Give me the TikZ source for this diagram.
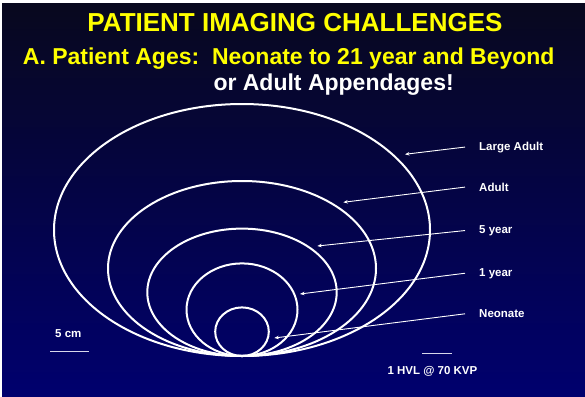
\documentclass[tikz,border=0pt]{standalone}
\usepackage{fontspec}
\setmainfont{Liberation Sans}
\usetikzlibrary{arrows.meta}
\definecolor{ttl}{RGB}{255,255,0}
\definecolor{bgtop}{RGB}{8,8,30}
\definecolor{bgbot}{RGB}{0,0,110}
\definecolor{barc}{RGB}{215,215,235}
\begin{document}
\begin{tikzpicture}[x=1pt,y=-1pt,
  ring/.style={draw=white,line width=2pt},
  arr/.style={draw=white,line width=0.9pt,-{Stealth[length=4.5pt,width=3.5pt]}},
  bigtext/.style={inner sep=0pt,font=\fontsize{23}{27}\selectfont\bfseries},
  lbl/.style={inner xsep=14pt,inner ysep=0pt,anchor=base west,text=white,font=\fontsize{11.5}{13}\selectfont\bfseries},
  note/.style={inner sep=0pt,anchor=base west,text=white,font=\fontsize{11.5}{13}\selectfont\bfseries},
  scalebar/.style={draw=barc,line width=1pt}]
\useasboundingbox (0,0) rectangle (585,396);
\fill[white] (0,0) rectangle (585,396);
\shade[top color=bgtop,bottom color=bgbot] (2,4) rectangle (585,396);
% titles
\node[bigtext,anchor=base,text=ttl,font=\fontsize{26}{30}\selectfont\bfseries] (title) at (295,31.7) {PATIENT IMAGING CHALLENGES};
\node[bigtext,anchor=base west,text=ttl] (sub) at (22.7,64) {A. Patient Ages:\ \ Neonate to 21 year and Beyond};
\node[bigtext,anchor=base west,text=white] (sub2) at (213.3,90.7) {or Adult Appendages!};
% ellipses
\draw[ring] (242,230) ellipse [x radius=188, y radius=126];
\draw[ring] (242,268.5) ellipse [x radius=134, y radius=87.5];
\draw[ring] (242,292.3) ellipse [x radius=94.7, y radius=63.7];
\draw[ring] (242,309.7) ellipse [x radius=55.5, y radius=46.3];
\draw[ring] (242,331.7) ellipse [x radius=26.8, y radius=24.3];
% arrow tips
\coordinate (tLA) at (405,154.3);
\coordinate (tAd) at (343.3,202.3);
\coordinate (tFive) at (317.3,246);
\coordinate (tOne) at (300,294);
\coordinate (tNeo) at (274.3,338);
% labels
\node[lbl] (lLA) at (465,150) {Large Adult};
\node[lbl] (lAd) at (465,191.2) {Adult};
\node[lbl] (lFive) at (465,233.3) {5 year};
\node[lbl] (lOne) at (465,276) {1 year};
\node[lbl] (lNeo) at (465,317.7) {Neonate};
\draw[arr] (lLA.west) -- (tLA);
\draw[arr] (lAd.west) -- (tAd);
\draw[arr] (lFive.west) -- (tFive);
\draw[arr] (lOne.west) -- (tOne);
\draw[arr] (lNeo.west) -- (tNeo);
% scale notes
\node[note] (cm) at (55,337.3) {5 cm};
\draw[scalebar] (50,351.7) -- (89,351.7);
\node[note] (hvl) at (387.3,374) {1 HVL @ 70 KVP};
\draw[scalebar] (422.3,353.3) -- (452.3,353.3);
\end{tikzpicture}
\end{document}
